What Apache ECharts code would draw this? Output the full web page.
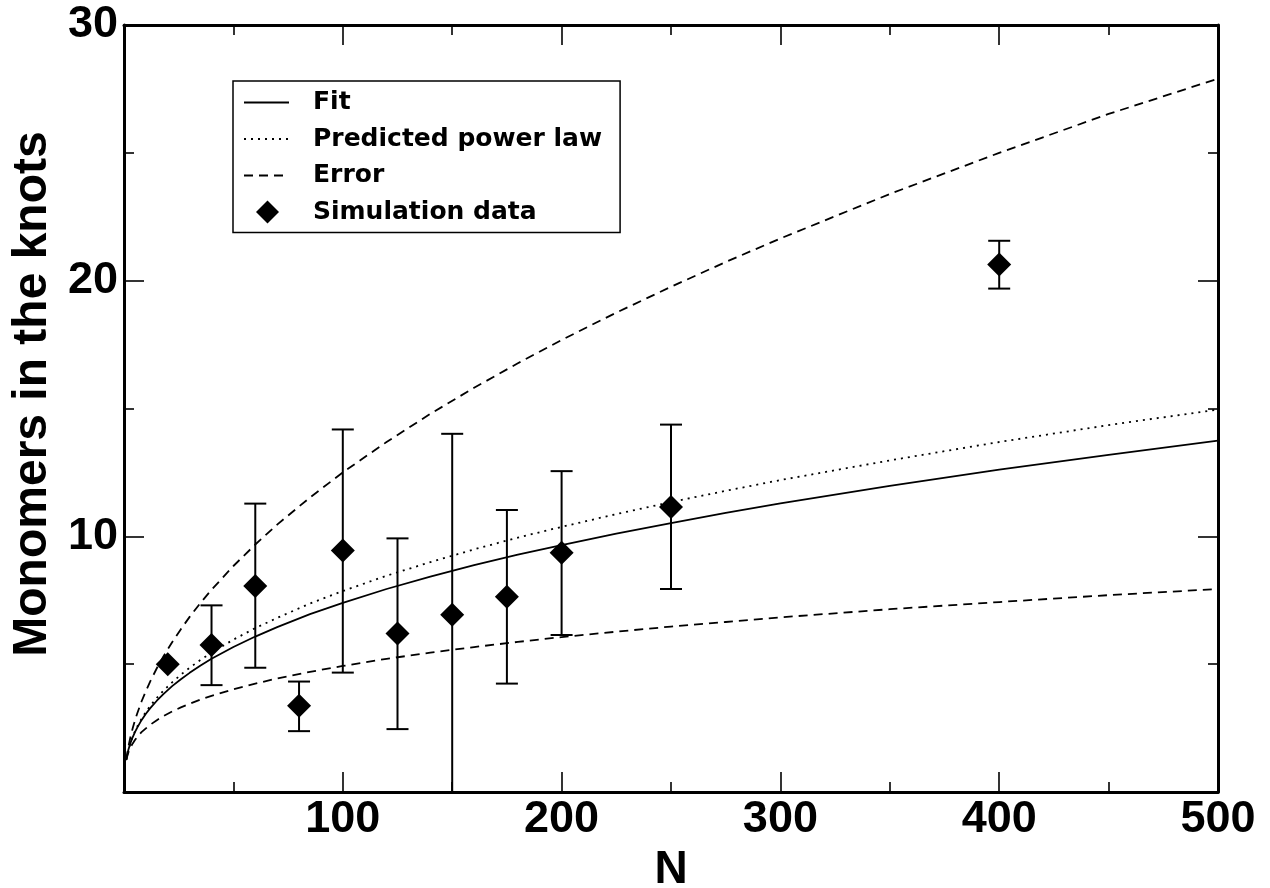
<!DOCTYPE html>
<html>
<head>
<meta charset="utf-8">
<script src="https://cdn.jsdelivr.net/npm/echarts@6/dist/echarts.min.js"></script>
<style>
html,body{margin:0;padding:0;background:#fff;}
#chart{width:1270px;height:888px;}
</style>
</head>
<body>
<div id="chart"></div>
<script>
// Curve sample points
const CURVE_N = [1, 2, 3, 4, 5, 6, 8, 10, 12, 15, 18, 22, 26, 30, 35, 40, 50, 60, 70, 85, 100, 120, 140, 160, 180, 200, 225, 250, 275, 300, 350, 400, 450, 500];
const FIT = [1.26, 1.65, 1.93, 2.15, 2.34, 2.51, 2.81, 3.06, 3.28, 3.57, 3.83, 4.14, 4.41, 4.66, 4.95, 5.21, 5.67, 6.08, 6.45, 6.96, 7.40, 7.94, 8.42, 8.87, 9.28, 9.66, 10.11, 10.52, 10.92, 11.29, 11.97, 12.61, 13.19, 13.74];
const PREDICTED = [1.25, 1.64, 1.93, 2.17, 2.37, 2.55, 2.86, 3.13, 3.37, 3.68, 3.96, 4.29, 4.59, 4.86, 5.17, 5.45, 5.96, 6.41, 6.81, 7.37, 7.86, 8.46, 8.99, 9.49, 9.95, 10.37, 10.87, 11.34, 11.78, 12.20, 12.97, 13.69, 14.35, 14.96];
const ERROR_UPPER = [1.25, 1.77, 2.17, 2.50, 2.80, 3.06, 3.54, 3.95, 4.33, 4.84, 5.30, 5.86, 6.37, 6.85, 7.40, 7.91, 8.84, 9.68, 10.46, 11.52, 12.50, 13.69, 14.79, 15.81, 16.77, 17.68, 18.75, 19.76, 20.73, 21.65, 23.39, 25.00, 26.52, 27.90];
const ERROR_LOWER = [1.26, 1.55, 1.75, 1.90, 2.03, 2.15, 2.34, 2.49, 2.63, 2.81, 2.97, 3.15, 3.31, 3.45, 3.62, 3.76, 4.02, 4.24, 4.44, 4.70, 4.93, 5.21, 5.45, 5.67, 5.87, 6.06, 6.27, 6.47, 6.65, 6.83, 7.15, 7.43, 7.70, 7.94];

// Simulation data with error bars
const SIM_N = [20, 40, 60, 80, 100, 125, 150, 175, 200, 250, 400];
const SIM_MEAN = [5.0, 5.75, 8.06, 3.37, 9.45, 6.20, 6.93, 7.64, 9.36, 11.15, 20.63];
const SIM_LOW = [null, 4.18, 4.86, 2.38, 4.67, 2.46, 0.0, 4.24, 6.14, 7.94, 19.69];
const SIM_HIGH = [null, 7.30, 11.28, 4.32, 14.18, 9.92, 14.01, 11.03, 12.55, 14.37, 21.56];

// Axis ticks
const X_MIN = 0, X_MAX = 500, X_STEP = 100;
const Y_MIN = 0, Y_MAX = 30, Y_STEP = 10;
const LEGEND_NAMES = ['Fit', 'Predicted power law', 'Error', 'Simulation data'];

const pair = (xs, ys) => xs.map((x, i) => [x, ys[i]]);
const TICK_FONT = { fontFamily: 'Liberation Sans', fontWeight: 'bold', fontSize: 45, color: '#000' };
const hideZero = v => (v === 0 ? '' : String(v));

function makeAxis(kind, pos, show) {
  const isX = kind === 'x';
  return {
    type: 'value',
    position: pos,
    min: isX ? X_MIN : Y_MIN,
    max: isX ? X_MAX : Y_MAX,
    interval: isX ? X_STEP : Y_STEP,
    axisLine: { show: true, onZero: false, lineStyle: { color: '#000', width: 3 } },
    axisTick: { show: true, inside: true, length: 20, lineStyle: { color: '#000', width: 1.6 } },
    minorTick: { show: true, splitNumber: 2, length: 10, lineStyle: { color: '#000', width: 1.6 } },
    splitLine: { show: false },
    minorSplitLine: { show: false },
    axisLabel: show ? Object.assign({ margin: isX ? 5 : 6, formatter: hideZero }, TICK_FONT) : { show: false }
  };
}

const xMain = makeAxis('x', 'bottom', true);
xMain.name = 'N';
xMain.nameLocation = 'middle';
xMain.nameGap = 51;
xMain.nameTextStyle = { fontFamily: 'Liberation Sans', fontWeight: 'bold', fontSize: 46, color: '#000' };

const yMain = makeAxis('y', 'left', true);
yMain.name = 'Monomers in the knots';
yMain.nameLocation = 'middle';
yMain.nameGap = 67;
yMain.nameTextStyle = { fontFamily: 'Liberation Sans', fontWeight: 'bold', fontSize: 48, color: '#000', padding: [0, 0, 0, 29] };

const errData = SIM_N.map((n, i) => [n, SIM_LOW[i], SIM_HIGH[i]]).filter(d => d[1] !== null);

const noMarker = { color: 'rgba(0,0,0,0)', borderColor: 'rgba(0,0,0,0)', borderWidth: 0 };

const lineSeries = (name, ys, dash) => ({
  name: name, type: 'line', data: pair(CURVE_N, ys),
  symbol: 'none', smooth: false,
  lineStyle: { color: '#000', width: 1.8, type: dash },
  itemStyle: { color: '#000' }
});

const chart = echarts.init(document.getElementById('chart'), null, { renderer: 'canvas' });
chart.setOption({
  backgroundColor: '#fff',
  animation: false,
  grid: { left: 124, right: 52, top: 25, bottom: 96, containLabel: false, outerBoundsMode: 'none' },
  xAxis: [xMain, makeAxis('x', 'top', false)],
  yAxis: [yMain, makeAxis('y', 'right', false)],
  legend: {
    orient: 'vertical',
    left: 233,
    top: 81,
    padding: [9, 18, 8, 10],
    itemGap: 11.5,
    itemWidth: 45,
    itemHeight: 23,
    borderColor: '#000',
    borderWidth: 1.5,
    selectedMode: false,
    textStyle: { fontFamily: 'DejaVu Sans', fontWeight: 'bold', fontSize: 25, lineHeight: 25, color: '#000', padding: [0, 0, 0, 19] },
    data: [
      { name: LEGEND_NAMES[0], itemStyle: noMarker },
      { name: LEGEND_NAMES[1], itemStyle: noMarker },
      { name: LEGEND_NAMES[2], itemStyle: noMarker },
      { name: LEGEND_NAMES[3], icon: 'path://M0,0 M45,23 M23.5,0 L35,11.5 L23.5,23 L12,11.5 Z' }
    ]
  },
  series: [
    lineSeries(LEGEND_NAMES[0], FIT, 'solid'),
    lineSeries(LEGEND_NAMES[1], PREDICTED, [2, 5]),
    lineSeries(LEGEND_NAMES[2], ERROR_UPPER, [9, 6]),
    lineSeries(LEGEND_NAMES[2], ERROR_LOWER, [9, 6]),
    {
      name: 'errorbars', type: 'custom', data: errData,
      encode: { x: 0, y: [1, 2] },
      renderItem: function (params, api) {
        const x = api.value(0);
        const top = api.coord([x, api.value(2)]);
        const bot = api.coord([x, api.value(1)]);
        const w = 11;
        const style = { stroke: '#000', lineWidth: 2, fill: null };
        return {
          type: 'group',
          children: [
            { type: 'line', shape: { x1: top[0], y1: top[1], x2: bot[0], y2: bot[1] }, style: style },
            { type: 'line', shape: { x1: top[0] - w, y1: top[1], x2: top[0] + w, y2: top[1] }, style: style },
            { type: 'line', shape: { x1: bot[0] - w, y1: bot[1], x2: bot[0] + w, y2: bot[1] }, style: style }
          ]
        };
      },
      z: 3
    },
    {
      name: LEGEND_NAMES[3], type: 'scatter', data: pair(SIM_N, SIM_MEAN),
      symbol: 'diamond', symbolSize: 24,
      itemStyle: { color: '#000', opacity: 1 }, z: 4
    }
  ]
});
</script>
</body>
</html>
